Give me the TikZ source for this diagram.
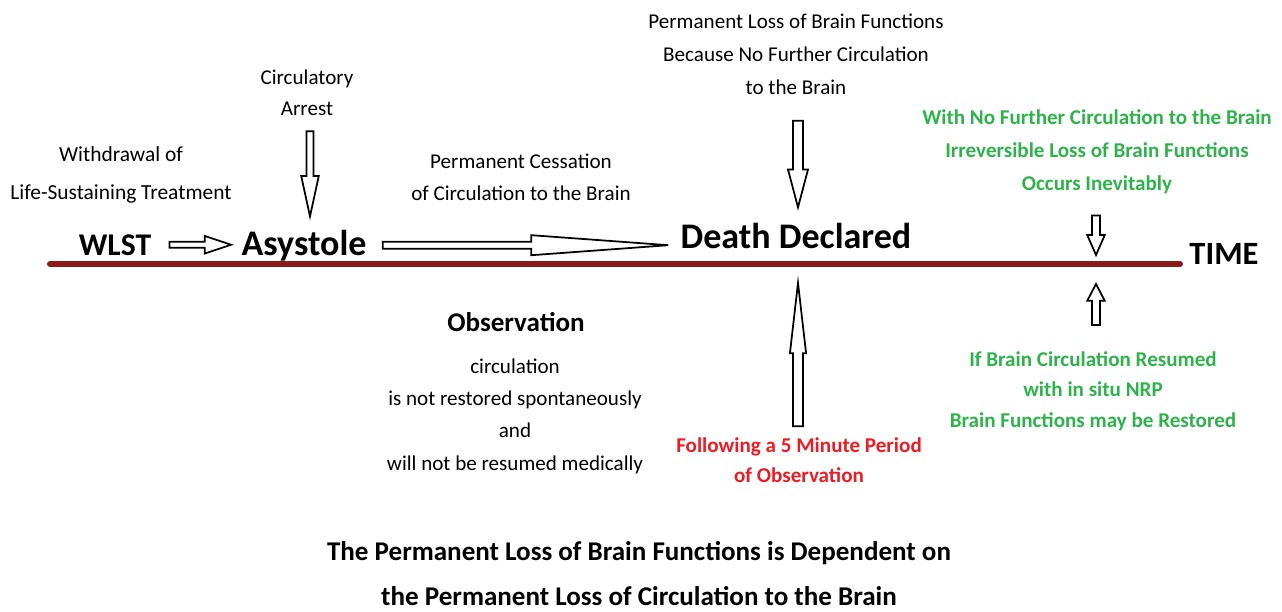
\documentclass[tikz,border=0pt]{standalone}
\usepackage{fontspec}
\setmainfont{Carlito}
\usetikzlibrary{calc}

\definecolor{timeline}{RGB}{140,26,26}
\definecolor{notegreen}{RGB}{46,178,76}
\definecolor{notered}{RGB}{236,28,36}

% hollow block arrow: tail, tip, shaft half width, head half width, head length
\newcommand{\hollowarrow}[5]{%
  \coordinate (ha-t) at #1;
  \coordinate (ha-p) at #2;
  \coordinate (ha-h) at ($(ha-p)!#5!(ha-t)$);
  \draw[hollow] ($(ha-t)!#3!90:(ha-p)$) -- ($(ha-h)!#3!90:(ha-p)$) -- ($(ha-h)!#4!90:(ha-p)$)
    -- (ha-p) -- ($(ha-h)!#4!-90:(ha-p)$) -- ($(ha-h)!#3!-90:(ha-p)$) -- ($(ha-t)!#3!-90:(ha-p)$) -- cycle;
}

\tikzset{
  note/.style={align=center, inner sep=0pt, font=\fontsize{12}{18.6}\selectfont},
  stage/.style={inner sep=0pt, anchor=base, font=\bfseries\fontsize{20.5}{24}\selectfont},
  greennote/.style={align=center, inner sep=0pt, text=notegreen, font=\bfseries\fontsize{12}{18.8}\selectfont},
  hollow/.style={draw=black, line width=1pt, fill=white, line join=miter},
}

\begin{document}
\begin{tikzpicture}[x=0.02cm, y=-0.02cm]
  \useasboundingbox (0,0) rectangle (1282,612);

  % time line
  \coordinate (tl0) at (50,264);
  \coordinate (tl1) at (1180,264);
  \draw[timeline, line width=3.4pt, line cap=round] (tl0) -- (tl1);

  % stages on the line
  \node[stage, font=\bfseries\fontsize{18}{22}\selectfont] (wlst) at (115,255) {WLST};
  \node[stage] (asys) at (304,255) {Asystole};
  \node[stage] (death) at (796,248) {Death Declared};
  \node[stage, font=\bfseries\fontsize{18.5}{22}\selectfont] (time) at (1224,264) {TIME};

  % notes above
  \node[note, font=\fontsize{12.2}{22}\selectfont] (withdraw) at (121,175) {Withdrawal of\\Life-Sustaining Treatment};
  \node[note, font=\fontsize{12}{17.6}\selectfont] (arrest) at (307,93) {Circulatory\\Arrest};
  \node[note, font=\fontsize{12}{18.2}\selectfont] (cessation) at (521,177) {Permanent Cessation\\of Circulation to the Brain};
  \node[note, font=\fontsize{12}{18.8}\selectfont] (lossnote) at (796,54) {Permanent Loss of Brain Functions\\Because No Further Circulation\\to the Brain};
  \node[greennote] (inevit) at (1097,152) {With No Further Circulation to the Brain\\Irreversible Loss of Brain Functions\\Occurs Inevitably};

  % notes below
  \node[stage, font=\bfseries\fontsize{15.4}{18}\selectfont] (observ) at (516,331) {Observation};
  \node[note, font=\fontsize{12}{18.4}\selectfont] (obsnote) at (515,416) {circulation\\is not restored spontaneously\\and\\will not be resumed medically};
  \node[note, text=notered, font=\bfseries\fontsize{12}{17}\selectfont] (period) at (799,460) {Following a 5 Minute Period\\of Observation};
  \node[greennote, font=\bfseries\fontsize{12}{17.4}\selectfont] (nrp) at (1093,391) {If Brain Circulation Resumed\\with in situ NRP\\Brain Functions may be Restored};
  \node[note, font=\bfseries\fontsize{15.4}{25.6}\selectfont] (summary) at (639,574) {The Permanent Loss of Brain Functions is Dependent on\\the Permanent Loss of Circulation to the Brain};

  % arrows along the line
  \hollowarrow{($(wlst.east)+(18,0)$)}{($(wlst.east -| asys.west)+(-10,0)$)}{1.7pt}{5pt}{15pt}
  \hollowarrow{($(asys.east)+(16,0)$)}{($(asys.east -| death.west)+(-12,0)$)}{2pt}{5.7pt}{78pt}

  % arrows from the notes
  \hollowarrow{($(arrest.south)+(3,15)$)}{($(arrest.south |- asys.north)+(3,-13)$)}{2pt}{5pt}{23pt}
  \hollowarrow{($(lossnote.south)+(2,26)$)}{($(lossnote.south |- death.north)+(2,-15)$)}{2.8pt}{5.7pt}{21.6pt}
  \hollowarrow{($(period.north)+(-1,-11)$)}{($(period.north |- tl0)+(-1,19)$)}{2.8pt}{4.6pt}{40pt}
  \hollowarrow{($(inevit.south)+(-1,21)$)}{($(inevit.south |- tl0)+(-1,-9)$)}{2.3pt}{5pt}{11.4pt}
  \hollowarrow{($(nrp.north)+(3,-26)$)}{($(nrp.north |- tl0)+(3,20)$)}{2.3pt}{5pt}{9.6pt}
\end{tikzpicture}
\end{document}
